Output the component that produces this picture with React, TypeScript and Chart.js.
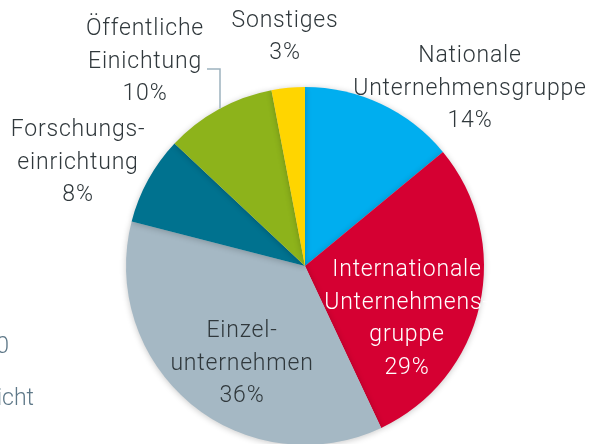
import React, { useEffect, useRef } from "react";
import { Chart, registerables } from "chart.js";

Chart.register(...registerables);

const categories = [
  "Nationale Unternehmensgruppe",
  "Internationale Unternehmensgruppe",
  "Einzelunternehmen",
  "Forschungseinrichtung",
  "Öffentliche Einichtung",
  "Sonstiges",
];
const values = [14, 29, 36, 8, 10, 3];
const labelLines = [
  ["Nationale", "Unternehmensgruppe"],
  ["Internationale", "Unternehmens-", "gruppe"],
  ["Einzel-", "unternehmen"],
  ["Forschungs-", "einrichtung"],
  ["Öffentliche", "Einichtung"],
  ["Sonstiges"],
];
const colors = ["#00AEEF", "#D50032", "#A5B8C4", "#00728F", "#8DB31B", "#FFD500"];
const labelColors = ["#30383c", "#ffffff", "#30383c", "#30383c", "#30383c", "#30383c"];
// label block centre offsets relative to pie centre
const labelOffsets = [
  [165, -177],
  [102, 53],
  [-63, 98],
  [-227, -103],
  [-160, -204],
  [-20, -229],
];
const FONT = "300 23px Roboto";
const LETTER_SPACING = "0.8px";
const LINE_H = 32.5;

const labelPlugin = {
  id: "customLabels",
  beforeDatasetsDraw(chart: any) {
    const ctx = chart.ctx;
    ctx.save();
    ctx.shadowColor = "rgba(0,0,0,0.22)";
    ctx.shadowBlur = 6;
    ctx.shadowOffsetX = 0;
    ctx.shadowOffsetY = 1;
  },
  afterDatasetsDraw(chart: any) {
    const ctx = chart.ctx;
    ctx.restore();
    const meta = chart.getDatasetMeta(0);
    const arc0 = meta.data[0] as any;
    const cx = arc0.x;
    const cy = arc0.y;
    const r = arc0.outerRadius;
    ctx.save();
    ctx.font = FONT;
    (ctx as any).letterSpacing = LETTER_SPACING;
    ctx.textAlign = "center";
    ctx.textBaseline = "middle";
    labelLines.forEach((lines, i) => {
      const all = [...lines, values[i] + "%"];
      const [ox, oy] = labelOffsets[i];
      const n = all.length;
      ctx.fillStyle = labelColors[i];
      all.forEach((t, k) => {
        ctx.fillText(t, cx + ox, cy + oy + (k - (n - 1) / 2) * LINE_H);
      });
    });
    // leader line for Öffentliche Einichtung
    const lx = cx - 85;
    const ly = cy - 197;
    const ey = cy - Math.sqrt(r * r - 85 * 85);
    ctx.strokeStyle = "#9DB2BF";
    ctx.lineWidth = 1.5;
    ctx.beginPath();
    ctx.moveTo(cx - 98, ly);
    ctx.lineTo(lx, ly);
    ctx.lineTo(lx, ey);
    ctx.stroke();
    // partially visible texts from neighbouring content
    (ctx as any).letterSpacing = "0px";
    ctx.fillStyle = "#5E7888";
    ctx.textAlign = "right";
    ctx.fillText("10", 9, 347);
    ctx.fillText("nicht", 34, 399);
    ctx.restore();
  },
};

export default function App() {
  const ref = useRef<HTMLCanvasElement>(null);
  useEffect(() => {
    document.body.style.margin = "0";
    document.body.style.overflow = "hidden";
    const chart = new Chart(ref.current!, {
      type: "pie",
      data: {
        labels: categories,
        datasets: [
          {
            data: values,
            backgroundColor: colors,
            borderWidth: 0,
          },
        ],
      },
      options: {
        animation: false,
        responsive: true,
        maintainAspectRatio: false,
        layout: { padding: { top: 87, bottom: 55, left: 126, right: 106 } },
        plugins: {
          legend: { display: false },
          tooltip: { enabled: false },
        },
      },
      plugins: [labelPlugin],
    });
    return () => chart.destroy();
  }, []);
  return (
    <div style={{ position: "fixed", left: 0, top: 0, width: 590, height: 444, overflow: "hidden", background: "#fff" }}>
      <div style={{ position: "relative", width: 590, height: 500 }}>
        <canvas ref={ref} />
      </div>
    </div>
  );
}
